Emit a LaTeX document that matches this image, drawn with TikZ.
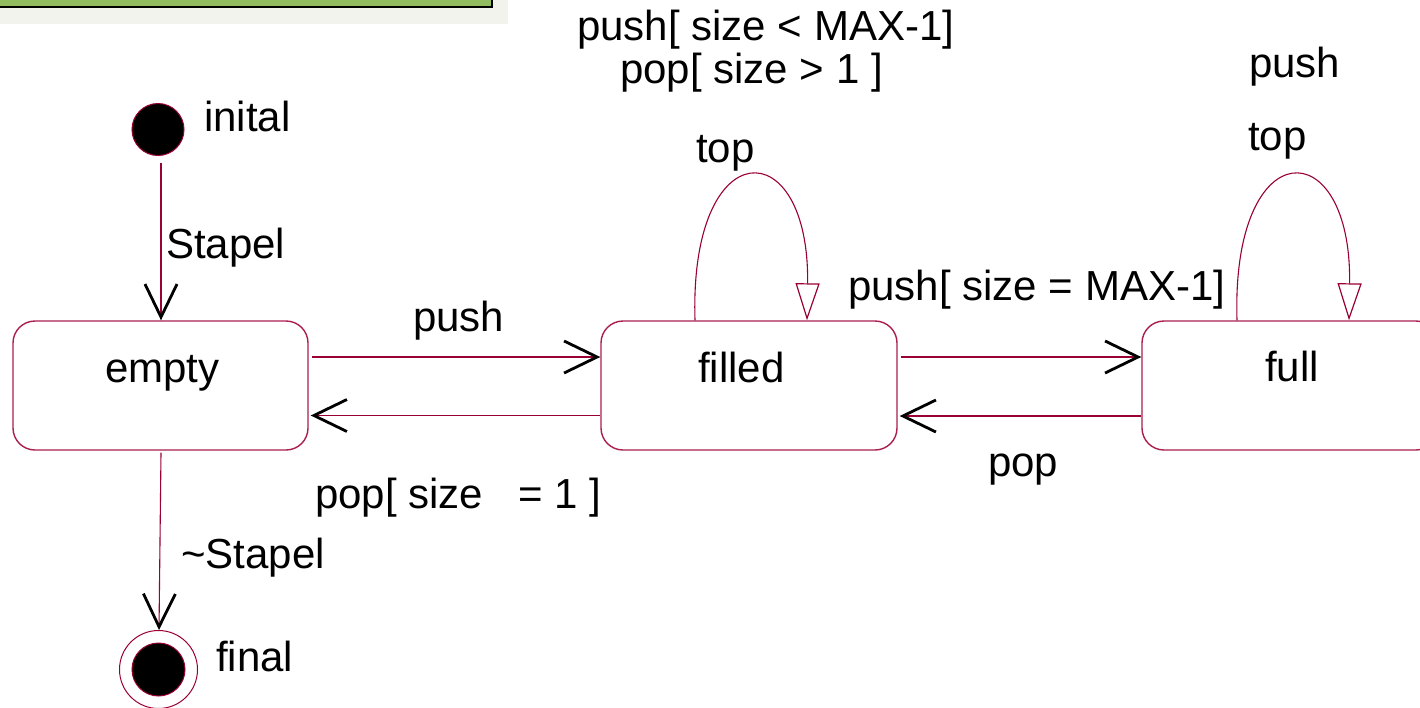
\documentclass[tikz,border=0pt]{standalone}
\usepackage{fontspec}
\setmainfont{Liberation Sans}
\usetikzlibrary{arrows.meta}
\definecolor{ln}{RGB}{153,0,51}
\definecolor{bx}{RGB}{170,30,80}
\definecolor{grn}{RGB}{146,188,95}
\definecolor{pane}{RGB}{243,243,238}
\tikzset{
  lbl/.style={font=\fontsize{42}{50}\selectfont, inner sep=0pt, anchor=base west, text=black},
  statebox/.style={draw=bx, line width=1.4pt, rounded corners=22pt, fill=white, minimum height=129pt, inner sep=0pt},
  trans/.style={draw=ln, line width=1.1pt, -{Straight Barb[color=black, line width=2.8pt, length=33pt, width=32pt]}},
  selfloop/.style={draw=ln, line width=1.1pt, -{Triangle[open, length=37pt, width=24pt, line width=1.2pt, color=ln]}}
}
\begin{document}
\begin{tikzpicture}[x=1pt, y=-1pt]
\useasboundingbox (0,0) rectangle (1420,707);
\fill[white] (0,0) rectangle (1420,707);
% top-left pane fragment
\fill[pane] (0,0) rectangle (508,24);
\draw[black, line width=2.5pt, fill=grn] (-5,-5) rectangle (492,7);

% states
\node[statebox, minimum width=295pt] (empty) at (160.5,385.5) {};
\node[statebox, minimum width=296pt] (filled) at (749,385.5) {};
\node[statebox, minimum width=296pt] (full) at (1290,385.5) {};
\node[lbl] (temp) at (105,382) {empty};
\node[lbl] (tfil) at (698,382) {filled};
\node[lbl] (tful) at (1265,381) {full};

% pseudo states
\node[circle, fill=black, draw=ln, line width=1pt, minimum size=52pt, inner sep=0pt] (init) at (158,129.5) {};
\node[circle, draw=ln, line width=1pt, minimum size=78pt, inner sep=0pt] (final) at (158.5,669.5) {};
\node[circle, fill=black, draw=ln, line width=1pt, minimum size=53pt, inner sep=0pt] (finalin) at (final.center) {};
\node[lbl] (tinit) at (204,131) {inital};
\node[lbl] (tfinal) at (216,671) {final};

% transitions
\draw[trans] ([xshift=3pt,yshift=-7pt]init.south) -- ([xshift=0.5pt]empty.north);
\node[lbl] (lstapel) at (166,258) {Stapel};
\draw[trans] ([xshift=0.5pt,yshift=-2pt]empty.south) -- ([xshift=0.5pt]final.north);
\node[lbl] (lnstapel) at (181,568) {\textasciitilde Stapel};

\draw[trans] ([xshift=3pt,yshift=28.5pt]empty.east) -- ([yshift=28.5pt]filled.west);
\node[lbl] (lpush1) at (413,331) {push};
\draw[trans] ([yshift=-30pt]filled.west) -- ([xshift=2pt,yshift=-30pt]empty.east);
\node[lbl] (lpop1) at (315,508) {pop[ size\ \ \ = 1 ]};

\draw[trans] ([xshift=3pt,yshift=28.5pt]filled.east) -- ([yshift=28.5pt]full.west);
\node[lbl] (lpush2) at (848,300) {push[ size = MAX-1]};
\draw[trans] ([yshift=-30.5pt]full.west) -- ([xshift=2pt,yshift=-30.5pt]filled.east);
\node[lbl] (lpop2) at (988,476) {pop};

% self loops
\draw[selfloop] ([xshift=-54pt]filled.north) .. controls +(-6,-190) and +(3,-190) .. ([xshift=58pt]filled.north);
\node[lbl] (lg1) at (577,40) {push[ size < MAX-1]};
\node[lbl] (lg2) at (620,83) {pop[ size > 1 ]};
\node[lbl] (ltop1) at (696,162) {top};

\draw[selfloop] ([xshift=-53pt]full.north) .. controls +(-6,-190) and +(3,-190) .. ([xshift=59pt]full.north);
\node[lbl] (lpush3) at (1249,77) {push};
\node[lbl] (ltop2) at (1248,150) {top};
\end{tikzpicture}
\end{document}
